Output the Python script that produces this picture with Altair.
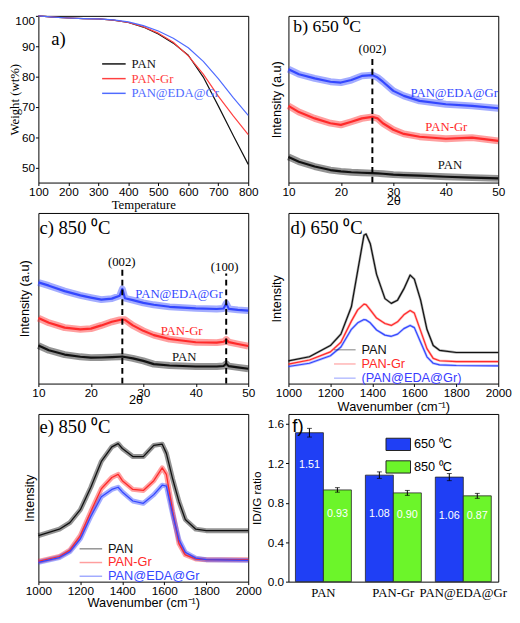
import altair as alt
import pandas as pd

SERIF = "Liberation Serif"
SANS = "Liberation Sans"

SERIES = ["PAN", "PAN-Gr", "PAN@EDA@Gr"]
BLACK, RED, BLUE = "#111111", "#ff2a2a", "#3347ff"
COLORS = [BLACK, RED, BLUE]

# ---------------- (a) TGA ----------------
tga_temp = [100, 150, 200, 250, 300, 350, 400, 450, 500, 550, 600, 650, 700, 750, 800]
tga_pan = [100, 99.6, 99.3, 99.1, 99.0, 98.6, 97.8, 96.3, 94.0, 91.0, 87.0, 79.8, 70.3, 60.5, 51.0]
tga_pangr = [100, 99.6, 99.3, 99.1, 99.0, 98.6, 97.8, 96.4, 94.3, 91.3, 86.8, 80.8, 73.5, 67.0, 60.8]
tga_edagr = [100, 99.6, 99.3, 99.1, 99.0, 98.7, 98.0, 96.8, 95.0, 92.6, 89.5, 85.0, 79.3, 73.0, 67.2]

# ---------------- (b) XRD 650 C ----------------
xrd650_x = [10, 12, 15, 18, 20, 22, 24, 26, 27, 28, 30, 32, 35, 40, 45, 50]
xrd650_pan = [15.4, 12.5, 9.6, 7.5, 6.7, 6.2, 5.9, 5.7, 5.5, 5.3, 4.8, 4.5, 4.2, 3.5, 3.0, 2.5]
xrd650_pangr = [46, 42.3, 38.5, 35.6, 34.6, 36.5, 38.5, 39.4, 38.5, 35.6, 31.7, 29.2, 27.5, 26.3, 27, 25]
xrd650_edagr = [68, 65, 62.5, 60.5, 60, 61.5, 64, 64.5, 63, 60.5, 55, 52, 49, 47, 46, 44.6]

# ---------------- (c) XRD 850 C ----------------
xrd850_x = [10, 12, 15, 18, 20, 22, 24, 25.5, 26, 26.5, 28, 30, 32, 35, 40, 44, 45.3, 45.8, 46.3, 48, 50]
xrd850_pan = [22.3, 19.5, 17, 15.7, 15.2, 15.3, 15.5, 15.7, 15.8, 15.6, 14.8, 13.3, 11.4, 10.6, 10, 10, 10.3, 11.6, 10.2, 9.5, 8.7]
xrd850_pangr = [38.4, 35.6, 32.8, 31.8, 32.2, 34.1, 36.2, 37.3, 37.5, 37.4, 34.1, 30.9, 28.4, 26.1, 24.2, 24, 24.5, 25.8, 24.3, 23.2, 22]
xrd850_edagr = [59.3, 57.4, 54.2, 51.7, 50.4, 49.2, 49.8, 51.5, 55.5, 50, 48.9, 47.3, 46.2, 45, 44.1, 43.7, 44, 47, 43.8, 43.2, 42.8]

# ---------------- (d) Raman 650 C ----------------
r650_x = [1000, 1100, 1200, 1250, 1300, 1330, 1360, 1370, 1390, 1420, 1460, 1490, 1520, 1550, 1580, 1600, 1630, 1660, 1690, 1720, 1800, 2000]
r650_pan = [13.3, 15.7, 22.3, 29, 45, 66, 87, 87.7, 82, 64, 49.8, 47, 48.9, 55.5, 63.6, 61.2, 48.9, 31.8, 22.3, 19.5, 18.2, 18.2]
r650_pangr = [11.4, 13.8, 18.6, 24.2, 36.6, 43.2, 46.6, 46.3, 43.2, 38.4, 35.2, 34.1, 36.2, 40.3, 42.8, 41.3, 30.9, 20.5, 14.8, 13.4, 12.9, 12.9]
r650_edagr = [10, 11.9, 16.3, 21.4, 31.8, 35.6, 37.5, 37.3, 35.6, 31.4, 28.4, 27.7, 29, 32.2, 34.1, 32.8, 24.2, 15.7, 11.9, 11, 10.6, 10.4]

# ---------------- (e) Raman 850 C ----------------
r850_x = [1000, 1100, 1150, 1200, 1250, 1300, 1350, 1380, 1400, 1450, 1500, 1550, 1590, 1610, 1640, 1670, 1700, 1750, 1800, 2000]
r850_pan = [27.5, 31.3, 35.2, 42.9, 56.3, 71.7, 80.4, 82.3, 79.4, 74.6, 74.6, 81.3, 82, 76.5, 61.2, 47.7, 37.1, 31.3, 30.4, 30.4]
r850_pangr = [12.1, 15, 18.8, 27.5, 41.9, 55.4, 62.1, 64, 60.2, 55, 54.4, 60.2, 67.9, 64, 41.9, 22.7, 16, 13.5, 13.1, 13.1]
r850_edagr = [11.5, 14.4, 17.9, 25.6, 39, 50.6, 55, 56.3, 53.5, 48.1, 46.7, 51.9, 57.5, 57, 40, 25, 17.5, 14, 13.1, 12.7]

# ---------------- (f) ID/IG ratio ----------------
f_groups = ["PAN", "PAN-Gr", "PAN@EDA@Gr"]
f_temps = ["650 ⁰C", "850 ⁰C"]
ratio_650 = [1.51, 1.08, 1.06]
ratio_850 = [0.93, 0.90, 0.87]
err_650 = [0.044, 0.033, 0.036]
err_850 = [0.023, 0.025, 0.025]
label_y_650 = [1.18, 0.69, 0.67]
label_y_850 = [0.69, 0.68, 0.67]
F_BLUE, F_GREEN = "#1f3ff5", "#6cf52a"

LW, RW = 214, 214
H1, H2, H3 = 170, 174, 171

LINE_SYM = "M-2,0H2"


def long_df(x, cols, names):
    rows = []
    for c, n in zip(cols, names):
        for xi, yi in zip(x, c):
            rows.append({"x": xi, "y": yi, "series": n})
    return pd.DataFrame(rows)


def label_signal(names, colors):
    expr = "'%s'" % colors[-1]
    for n, c in reversed(list(zip(names[:-1], colors[:-1]))):
        expr = "datum.value === '%s' ? '%s' : (%s)" % (n, c, expr)
    return expr


def line_legend(names, colors, x, y, font, size, sym, rowpad, loff):
    return alt.Legend(
        orient="none", legendX=x, legendY=y, title=None, symbolType=LINE_SYM,
        symbolSize=sym, symbolStrokeWidth=1.5, symbolFillColor="transparent",
        labelFont=font, labelFontSize=size,
        rowPadding=rowpad, labelOffset=loff, padding=0,
        labelColor={"expr": label_signal(names, colors)},
    )


def xaxis(values, title, tfont, **kw):
    d = dict(values=values, title=title, titleFont=tfont, titleFontSize=13,
             titleFontWeight="normal", labelFont=SANS, labelFontSize=12, grid=False,
             tickSize=3, domain=False, labelPadding=1, titlePadding=1, format="d",
             labelFlush=False, labelOverlap=False,
             labelColor="black", titleColor="black", tickColor="black")
    d.update(kw)
    return alt.Axis(**d)


def yaxis_nolabels(title, tx):
    return alt.Axis(title=title, labels=False, ticks=False, domain=False, grid=False,
                    titleFont=SANS, titleFontSize=13, titleFontWeight="normal",
                    titleColor="black", titleX=tx, titleAngle=-90)


def letter(txt, x, y, font=SERIF, size=19):
    return alt.Chart(pd.DataFrame({"t": [txt]})).mark_text(
        align="left", baseline="middle", font=font, fontSize=size, color="black"
    ).encode(x=alt.value(x), y=alt.value(y), text="t:N")


def noisy_lines(df, xenc, yenc, colors, names, legend, wide, narrow, wop):
    cscale = alt.Scale(domain=names, range=colors)
    base = alt.Chart(df)
    layers = []
    if wop > 0:
        layers.append(base.mark_line(strokeWidth=wide, opacity=wop, strokeJoin="round").encode(
            x=xenc, y=yenc, color=alt.Color("series:N", scale=cscale, legend=legend)))
    layers.append(base.mark_line(strokeWidth=narrow, strokeJoin="round").encode(
        x=xenc, y=yenc, color=alt.Color("series:N", scale=cscale, legend=legend)))
    return layers


# ---- panel a ----
df_a = long_df(tga_temp, [tga_pan, tga_pangr, tga_edagr], SERIES)
a_x = alt.X("x:Q", scale=alt.Scale(domain=[100, 800], nice=False),
            axis=xaxis(list(range(100, 801, 100)), "Temperature", SERIF))
a_y = alt.Y("y:Q", scale=alt.Scale(domain=[45, 100], nice=False),
            axis=alt.Axis(values=[50, 60, 70, 80, 90, 100], title="Weight (wt%)", titleFont=SERIF,
                          titleFontSize=13, titleFontWeight="normal", titleX=-17, titleColor="black",
                          labelFont=SANS, labelFontSize=12, labelColor="black", grid=False,
                          tickSize=3, domain=False, labelPadding=1, labelFlush=False,
                          labelBaseline={"condition": {"test": "datum.value == 100", "value": "top"},
                                         "value": "middle"},
                          tickColor="black"))
a_cols = ["#111111", "#ff4040", "#4f6bff"]
a_lines = noisy_lines(df_a, a_x, a_y, a_cols, SERIES,
                      line_legend(SERIES, a_cols, 70, 42, SERIF, 13, 144, 1, 11), 1.2, 1.2, 0.0)
panel_a = alt.layer(*a_lines, letter("a)", 13, 24)).properties(width=LW, height=H1)

# ---- panel b ----
df_b = long_df(xrd650_x, [xrd650_pan, xrd650_pangr, xrd650_edagr], SERIES)
b_x = alt.X("x:Q", scale=alt.Scale(domain=[10, 50], nice=False),
            axis=xaxis([10, 20, 30, 40, 50], "2θ", SANS, titlePadding=-3))
b_y = alt.Y("y:Q", scale=alt.Scale(domain=[0, 100], nice=False), axis=yaxis_nolabels("Intensity (a.u)", -5))
b_lines = noisy_lines(df_b, b_x, b_y, COLORS, SERIES, None, 7, 2.2, 0.45)
b_vl = pd.DataFrame({"x": [26], "y0": [0], "y1": [75]})
b_vlines = alt.Chart(b_vl).mark_rule(color="black", strokeWidth=2, strokeDash=[6, 4]).encode(
    x="x:Q", y="y0:Q", y2="y1:Q")
b_ann = pd.DataFrame({"x": [26, 41.6, 40.1, 40.8], "y": [80, 53.5, 33.3, 10.2],
                      "t": ["(002)", "PAN@EDA@Gr", "PAN-Gr", "PAN"], "c": ["black", BLUE, RED, BLACK]})
b_text = alt.Chart(b_ann).mark_text(font=SERIF, fontSize=13, baseline="middle").encode(
    x="x:Q", y="y:Q", text="t:N", color=alt.Color("c:N", scale=None))
panel_b = alt.layer(*b_lines, b_vlines, b_text, letter("b) 650 ⁰C", 5, 11, size=18)).properties(width=RW, height=H1)

# ---- panel c ----
df_c = long_df(xrd850_x, [xrd850_pan, xrd850_pangr, xrd850_edagr], SERIES)
c_x = alt.X("x:Q", scale=alt.Scale(domain=[10, 50], nice=False),
            axis=xaxis([10, 20, 30, 40, 50], "2θ", SANS, titleX=99, titleY=10))
c_y = alt.Y("y:Q", scale=alt.Scale(domain=[0, 100], nice=False), axis=yaxis_nolabels("Intensity (a.u)", -7))
c_lines = noisy_lines(df_c, c_x, c_y, COLORS, SERIES, None, 7, 2.2, 0.45)
c_vl = pd.DataFrame({"x": [26, 45.8], "y0": [0, 0], "y1": [67, 64.5]})
c_vlines = alt.Chart(c_vl).mark_rule(color="black", strokeWidth=2, strokeDash=[6, 4]).encode(
    x="x:Q", y="y0:Q", y2="y1:Q")
c_ann = pd.DataFrame({"x": [25.9, 45.5, 36.8, 37.3, 37.8], "y": [71, 68.5, 52.7, 30.9, 15.7],
                      "t": ["(002)", "(100)", "PAN@EDA@Gr", "PAN-Gr", "PAN"],
                      "c": ["black", "black", BLUE, RED, BLACK]})
c_text = alt.Chart(c_ann).mark_text(font=SERIF, fontSize=13, baseline="middle").encode(
    x="x:Q", y="y:Q", text="t:N", color=alt.Color("c:N", scale=None))
panel_c = alt.layer(*c_lines, c_vlines, c_text, letter("c) 850 ⁰C", 1, 15)).properties(width=LW, height=H2)

# ---- panel d ----
D_NAMES = ["PAN", "PAN-Gr", "(PAN@EDA@Gr)"]
df_d = long_df(r650_x, [r650_pan, r650_pangr, r650_edagr], D_NAMES)
d_x = alt.X("x:Q", scale=alt.Scale(domain=[1000, 2000], nice=False),
            axis=xaxis([1000, 1200, 1400, 1600, 1800, 2000], "Wavenumber (cm⁻¹)", SANS, titlePadding=2))
d_y = alt.Y("y:Q", scale=alt.Scale(domain=[0, 100], nice=False), axis=yaxis_nolabels("Intensity", -5))
d_lines = noisy_lines(df_d, d_x, d_y, COLORS, D_NAMES,
                      line_legend(D_NAMES, [BLACK, RED, "#3a3aff"], 51, 133, SANS, 13, 121, 0.5, 10.5),
                      2.5, 1.2, 0.35)
panel_d = alt.layer(*d_lines, letter("d) 650 ⁰C", 2, 15)).properties(width=RW, height=H2)

# ---- panel e ----
df_e = long_df(r850_x, [r850_pan, r850_pangr, r850_edagr], SERIES)
e_x = alt.X("x:Q", scale=alt.Scale(domain=[1000, 2000], nice=False),
            axis=xaxis([1000, 1200, 1400, 1600, 1800, 2000], "Wavenumber (cm⁻¹)", SANS, titlePadding=0))
e_y = alt.Y("y:Q", scale=alt.Scale(domain=[0, 100], nice=False), axis=yaxis_nolabels("Intensity", -2))
e_lines = noisy_lines(df_e, e_x, e_y, COLORS, SERIES,
                      line_legend(SERIES, COLORS, 47, 131, SANS, 13, 132, 0, 11), 5, 1.3, 0.45)
panel_e = alt.layer(*e_lines, letter("e) 850 ⁰C", 1, 13)).properties(width=LW, height=H3)

# ---- panel f ----
rows = []
for i, g in enumerate(f_groups):
    rows.append({"g": g, "temp": f_temps[0], "v": ratio_650[i], "lo": ratio_650[i] - err_650[i],
                 "hi": ratio_650[i] + err_650[i], "ly": label_y_650[i], "lbl": "%.2f" % ratio_650[i]})
    rows.append({"g": g, "temp": f_temps[1], "v": ratio_850[i], "lo": ratio_850[i] - err_850[i],
                 "hi": ratio_850[i] + err_850[i], "ly": label_y_850[i], "lbl": "%.2f" % ratio_850[i]})
df_f = pd.DataFrame(rows)
f_x = alt.X("g:N", sort=f_groups, scale=alt.Scale(paddingInner=0.2, paddingOuter=0.1),
            axis=alt.Axis(title=None, labelFont=SERIF, labelFontSize=13, labelAngle=0, labelColor="black",
                          ticks=False, domain=False, labelPadding=5))
f_xo = alt.XOffset("temp:N", sort=f_temps, scale=alt.Scale(paddingInner=0, paddingOuter=0))
f_yscale = alt.Scale(domain=[0, 1.7], nice=False)
f_y = alt.Y("v:Q", scale=f_yscale,
            axis=alt.Axis(values=[0, 0.2, 0.4, 0.6, 0.8, 1.0, 1.2, 1.4, 1.6], format=".1f",
                          title="ID/IG ratio", titleFont=SANS, titleFontSize=12, titleFontWeight="normal",
                          titleColor="black", titleX=-25, labelFont=SANS, labelFontSize=12,
                          labelColor="black", grid=False, tickSize=3, domain=False, labelPadding=2,
                          tickColor="black"))
bar_sym = "M-1,-0.5H1V0.5H-1Z"
f_bars = alt.Chart(df_f).mark_bar(stroke="#222222", strokeWidth=0.8).encode(
    x=f_x, xOffset=f_xo, y=f_y,
    color=alt.Color("temp:N", sort=f_temps, scale=alt.Scale(domain=f_temps, range=[F_BLUE, F_GREEN]),
                    legend=alt.Legend(orient="none", legendX=99, legendY=18, title=None,
                                      symbolType=bar_sym, symbolSize=625, symbolStrokeColor="#222222",
                                      symbolStrokeWidth=1, symbolOpacity=1, labelFont=SANS,
                                      labelFontSize=13, labelColor="black", rowPadding=1,
                                      labelOffset=3, padding=0)))
f_err = alt.Chart(df_f).mark_rule(color="black", strokeWidth=1).encode(
    x=f_x, xOffset=f_xo, y=alt.Y("lo:Q", scale=f_yscale), y2="hi:Q")
f_cap_lo = alt.Chart(df_f).mark_tick(color="black", thickness=1, size=5).encode(
    x=f_x, xOffset=f_xo, y=alt.Y("lo:Q", scale=f_yscale))
f_cap_hi = alt.Chart(df_f).mark_tick(color="black", thickness=1, size=5).encode(
    x=f_x, xOffset=f_xo, y=alt.Y("hi:Q", scale=f_yscale))
f_lbl = alt.Chart(df_f).mark_text(color="white", font=SANS, fontSize=11, baseline="middle").encode(
    x=f_x, xOffset=f_xo, y=alt.Y("ly:Q", scale=f_yscale), text="lbl:N")
panel_f = alt.layer(f_bars, f_err, f_cap_lo, f_cap_hi, f_lbl, letter("f)", 4, 12, font=SANS, size=19)
                    ).properties(width=RW, height=H3)

chart = alt.concat(panel_a, panel_b, panel_c, panel_d, panel_e, panel_f, columns=2,
                   spacing={"row": 31, "column": 41}, bounds="flush").resolve_scale(
    color="independent", x="independent", y="independent"
).properties(padding=0, background="white").configure_view(
    stroke="black", strokeWidth=1
)

chart.save("out.html", embed_options={"renderer": "svg", "actions": False})
